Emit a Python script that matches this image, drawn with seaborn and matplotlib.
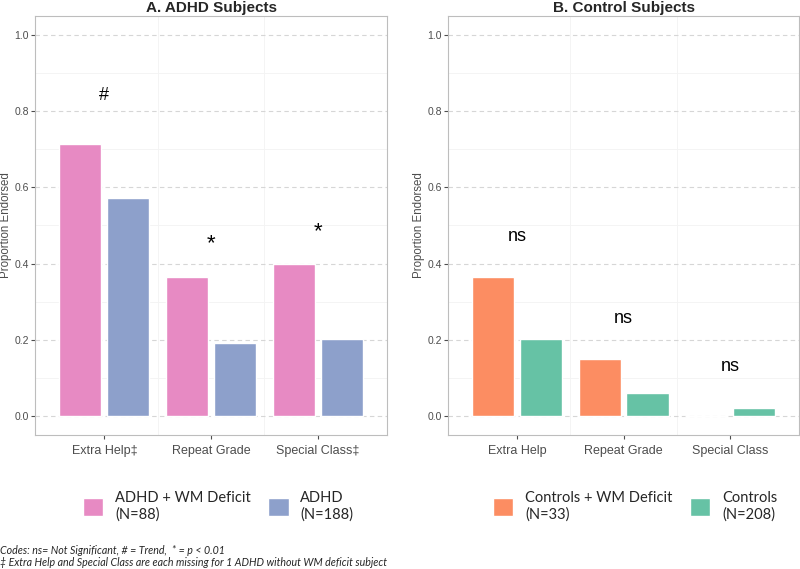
import pandas as pd
import seaborn as sns
import matplotlib.pyplot as plt
from matplotlib.ticker import MultipleLocator

# data
adhd_cats = ["Extra Help\u2021", "Repeat Grade", "Special Class\u2021"]
adhd_wm = [0.715, 0.364, 0.398]
adhd_only = [0.572, 0.191, 0.202]
adhd_groups = ["ADHD + WM Deficit\n(N=88)", "ADHD\n(N=188)"]
adhd_marks = ["#", "*", "*"]
adhd_mark_y = [0.84, 0.465, 0.497]

ctrl_cats = ["Extra Help", "Repeat Grade", "Special Class"]
ctrl_wm = [0.364, 0.150, 0.0]
ctrl_only = [0.201, 0.061, 0.022]
ctrl_groups = ["Controls + WM Deficit\n(N=33)", "Controls\n(N=208)"]
ctrl_marks = ["ns", "ns", "ns"]
ctrl_mark_y = [0.47, 0.256, 0.131]

sns.set_theme(style="white")
plt.rcParams["font.family"] = ["Liberation Sans", "DejaVu Sans"]

fig = plt.figure(figsize=(8, 5.69), dpi=100)


def make_df(cats, a, b, groups):
    rows = []
    for c, va, vb in zip(cats, a, b):
        rows.append({"cat": c, "group": groups[0], "val": va})
        rows.append({"cat": c, "group": groups[1], "val": vb})
    return pd.DataFrame(rows)


def panel(rect, df, cats, groups, colors, title, marks, mark_y, leg_anchor):
    ax = fig.add_axes(rect)
    sns.barplot(data=df, x="cat", y="val", hue="group", order=cats,
                hue_order=groups, palette=colors, width=0.9, gap=0.12,
                saturation=1, ax=ax)
    ax.set_xlim(-0.65, 2.65)
    ax.set_ylim(-0.05, 1.05)
    ax.yaxis.set_minor_locator(MultipleLocator(0.1))
    ax.set_yticks([0, 0.2, 0.4, 0.6, 0.8, 1.0])
    ax.set_yticklabels(["0.0", "0.2", "0.4", "0.6", "0.8", "1.0"])
    ax.grid(axis="y", which="major", color="#D6D6D6", ls=(0, (4, 3)), lw=0.8)
    ax.grid(axis="y", which="minor", color="#F3F3F3", lw=0.6)
    for xv in [0.5, 1.5]:
        ax.axvline(xv, color="#F3F3F3", lw=0.6, zorder=0)
    ax.set_axisbelow(True)
    for s in ax.spines.values():
        s.set_color("#BDBDBD")
        s.set_linewidth(0.8)
    ax.tick_params(axis="both", which="major", length=3, width=0.8,
                   color="#4D4D4D", labelcolor="#4D4D4D", labelsize=7.5,
                   left=True, bottom=True, pad=1.5)
    ax.tick_params(axis="x", labelsize=9, pad=4)
    ax.tick_params(axis="y", which="minor", length=0)
    ax.set_xlabel("")
    ax.set_ylabel("Proportion Endorsed", color="#4D4D4D", fontsize=8.3,
                  labelpad=1.5)
    ax.set_title(title, fontsize=11, fontweight="bold", pad=3)
    for i, (m, yv) in enumerate(zip(marks, mark_y)):
        size = 16 if m == "*" else 13
        off = -0.012 if m == "*" else 0
        ax.text(i, yv + off, m, ha="center", va="center", fontsize=size,
                color="black")
    handles, labels = ax.get_legend_handles_labels()
    ax.legend(handles, labels, loc="center", bbox_to_anchor=leg_anchor,
              ncol=2, frameon=False, handlelength=1.4, handleheight=1.6,
              columnspacing=1.2, handletextpad=0.8, labelspacing=0.2,
              prop={"family": "Lato", "size": 10.5})
    return ax


df_a = make_df(adhd_cats, adhd_wm, adhd_only, adhd_groups)
df_b = make_df(ctrl_cats, ctrl_wm, ctrl_only, ctrl_groups)

panel([0.04375, 0.2355, 0.44, 0.7364], df_a, adhd_cats, adhd_groups,
      ["#E78AC3", "#8DA0CB"], "A. ADHD Subjects", adhd_marks, adhd_mark_y,
      (0.52, -0.17))
panel([0.56, 0.2355, 0.439, 0.7364], df_b, ctrl_cats, ctrl_groups,
      ["#FC8D62", "#66C2A5"], "B. Control Subjects", ctrl_marks, ctrl_mark_y,
      (0.533, -0.17))

fig.text(0.0, 1 - 550 / 569, "Codes: ns= Not Significant, # = Trend,  * = p < 0.01",
         fontsize=7.7, style="italic", family=["Lato", "DejaVu Sans"], va="center")
fig.text(0.0, 1 - 563 / 569,
         "\u2021 Extra Help and Special Class are each missing for 1 ADHD without WM deficit subject",
         fontsize=7.7, style="italic", family=["Lato", "DejaVu Sans"], va="center")

fig.savefig("out.png", dpi=100)
